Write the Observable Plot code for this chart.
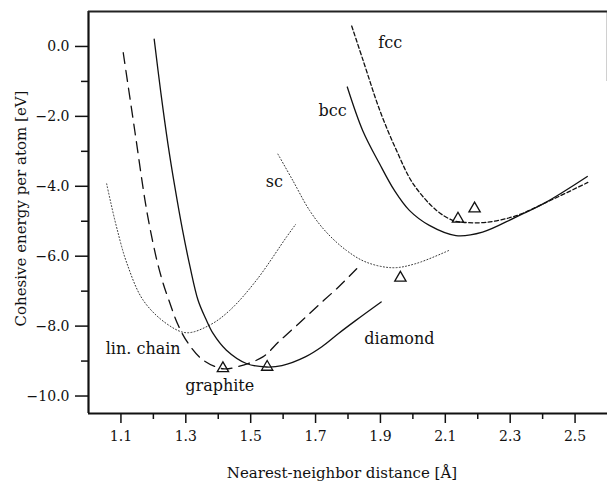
<!DOCTYPE html>
<html><head><meta charset="utf-8">
<script src="https://cdn.jsdelivr.net/npm/d3@7"></script>
<script src="https://cdn.jsdelivr.net/npm/@observablehq/plot@0.6"></script>
<style>
body{margin:0;background:#fff}
#chart svg, #chart svg text { font-family: "DejaVu Serif", "Liberation Serif", "Times New Roman", Times, serif !important; }
</style>
</head><body><div id="chart"></div>
<script>
// Tick values
const xMajorTicks = [1.1, 1.3, 1.5, 1.7, 1.9, 2.1, 2.3, 2.5];
const xMinorTicks = [1.2, 1.4, 1.6, 1.8, 2.0, 2.2, 2.4];
const yMajorTicks = [0, -2, -4, -6, -8, -10];
const yMinorTicks = [-1, -3, -5, -7, -9];

// Curves (nearest-neighbor distance in Å, cohesive energy in eV)
const diamondX = [1.2025, 1.2231, 1.2446, 1.2662, 1.2898, 1.3123, 1.3378, 1.3615, 1.384, 1.4252, 1.4868, 1.5483, 1.5963, 1.6683, 1.7194, 1.7708, 1.8222, 1.9022];
const diamondY = [0.21, -1.33, -2.77, -4.02, -5.25, -6.27, -7.26, -7.79, -8.21, -8.69, -9.07, -9.17, -9.13, -8.88, -8.59, -8.21, -7.85, -7.31];

const graphiteX = [1.1071, 1.1431, 1.1738, 1.1892, 1.2108, 1.2292, 1.2455, 1.2763, 1.3071, 1.3532, 1.4138, 1.456, 1.5375, 1.5862, 1.6477, 1.7092, 1.7708, 1.8268];
const graphiteY = [-0.18, -2.44, -4.38, -5.18, -6.12, -6.75, -7.20, -7.97, -8.49, -8.97, -9.22, -9.17, -8.88, -8.45, -7.93, -7.40, -6.88, -6.36];

const chainX = [1.056, 1.0692, 1.0877, 1.1175, 1.1686, 1.2406, 1.3022, 1.3738, 1.4354, 1.5175, 1.6098, 1.6385];
const chainY = [-3.93, -4.49, -5.21, -6.18, -7.26, -7.93, -8.19, -7.97, -7.55, -6.69, -5.46, -5.09];

const scX = [1.584, 1.6302, 1.6815, 1.7329, 1.7945, 1.856, 1.9378, 2.0098, 2.1123];
const scY = [-3.08, -3.84, -4.69, -5.31, -5.83, -6.17, -6.33, -6.21, -5.83];

const bccX = [1.7978, 1.8455, 1.8969, 1.9431, 1.9892, 2.0508, 2.1329, 2.2148, 2.3175, 2.4098, 2.5378];
const bccY = [-1.16, -2.41, -3.35, -4.12, -4.69, -5.12, -5.41, -5.31, -4.88, -4.46, -3.72];

const fccX = [1.8114, 1.847, 1.8985, 1.9498, 2.0009, 2.0729, 2.124, 2.1548, 2.2268, 2.3191, 2.4114, 2.5394];
const fccY = [0.585, -0.41, -1.84, -2.98, -3.93, -4.69, -4.98, -5.03, -5.03, -4.84, -4.46, -3.89];

// Experimental points (triangles)
const triX = [1.4144, 1.5508, 1.9615, 2.1391, 2.1902];
const triY = [-9.21, -9.17, -6.62, -4.93, -4.64];

// Curve labels
const labelText = ["fcc", "bcc", "sc", "lin. chain", "graphite", "diamond"];
const labelX = [1.930, 1.7523, 1.573, 1.1686, 1.4046, 1.9585];
const labelY = [0.10, -1.83, -3.88, -8.66, -9.72, -8.36];

const rows = (xs, ys) => xs.map((x, i) => ({x, y: ys[i]}));
const labels = labelText.map((t, i) => ({text: t, x: labelX[i], y: labelY[i]}));
const INK = "#111";

const chart = Plot.plot({
  width: 607,
  height: 484,
  marginLeft: 88,
  marginRight: 0,
  marginTop: 11,
  marginBottom: 71,
  style: {fontSize: "14px", color: INK, background: "#fff"},
  x: {domain: [1.0, 2.6]},
  y: {domain: [-10.5, 1.0]},
  marks: [
    Plot.axisX({ticks: xMajorTicks, tickSize: 10, tickPadding: 8, tickFormat: d => d.toFixed(1), strokeWidth: 1.5, label: null}),
    Plot.axisX({ticks: xMinorTicks, tickSize: 6, tickFormat: () => "", strokeWidth: 1.5, label: null}),
    Plot.axisY({ticks: yMajorTicks, tickSize: 13, tickPadding: 6, tickFormat: d => d.toFixed(1).replace("-", "\u2212"), strokeWidth: 1.5, label: null}),
    Plot.axisY({ticks: yMinorTicks, tickSize: 7, tickFormat: () => "", strokeWidth: 1.5, label: null}),
    Plot.ruleX([1.0], {stroke: INK, strokeWidth: 2.2}),
    Plot.ruleY([-10.5], {stroke: INK, strokeWidth: 2.2}),
    Plot.ruleY([1.0], {stroke: "#222", strokeWidth: 2}),
    Plot.ruleX([2.6], {y1: 1.0, y2: -1.0, stroke: "#444", strokeWidth: 1.5}),
    Plot.text(["Nearest-neighbor distance [Å]"], {frameAnchor: "bottom", textAnchor: "middle", dy: 60, dx: -6, lineAnchor: "middle", fontSize: 15, fill: INK}),
    Plot.text(["Cohesive energy per atom [eV]"], {frameAnchor: "left", textAnchor: "middle", dx: -67, dy: -4, rotate: -90, lineAnchor: "middle", fontSize: 15, fill: INK}),
    Plot.line(rows(chainX, chainY), {x: "x", y: "y", curve: "catmull-rom", stroke: "#333", strokeWidth: 1, strokeDasharray: "1,2.2"}),
    Plot.line(rows(scX, scY), {x: "x", y: "y", curve: "catmull-rom", stroke: "#333", strokeWidth: 1, strokeDasharray: "1,2.2"}),
    Plot.line(rows(graphiteX, graphiteY), {x: "x", y: "y", curve: "catmull-rom", stroke: INK, strokeWidth: 1.3, strokeDasharray: "11,7"}),
    Plot.line(rows(fccX, fccY), {x: "x", y: "y", curve: "catmull-rom", stroke: INK, strokeWidth: 1.3, strokeDasharray: "4,2.5"}),
    Plot.line(rows(diamondX, diamondY), {x: "x", y: "y", curve: "catmull-rom", stroke: INK, strokeWidth: 1.3}),
    Plot.line(rows(bccX, bccY), {x: "x", y: "y", curve: "catmull-rom", stroke: INK, strokeWidth: 1.3}),
    Plot.dot(rows(triX, triY), {x: "x", y: "y", symbol: "triangle", r: 4.2, stroke: INK, fill: "none", strokeWidth: 1.3}),
    Plot.text(labels, {x: "x", y: "y", text: "text", fontSize: 16, fill: INK})
  ]
});
document.getElementById("chart").appendChild(chart);
</script>
</body></html>
